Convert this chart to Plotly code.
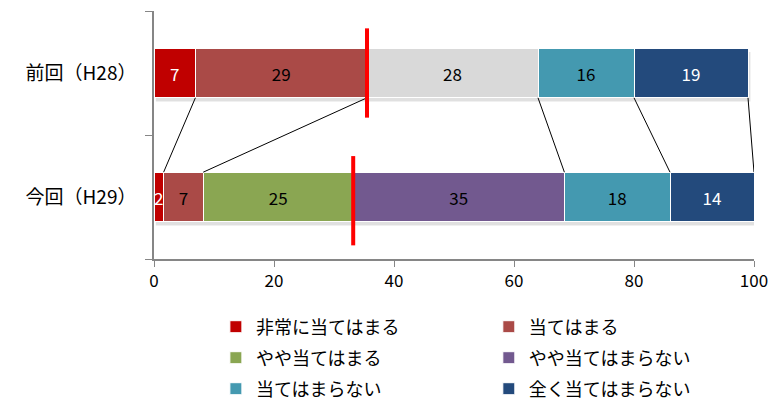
import plotly.graph_objects as go

categories = ["今回（H29）", "前回（H28）"]
series_names = ["非常に当てはまる", "当てはまる", "どちらともいえない", "やや当てはまる",
                "やや当てはまらない", "当てはまらない", "全く当てはまらない"]
# values per series: [今回, 前回]
values = [
    [1.6, 6.9],
    [6.6, 28.6],
    [None, 28.5],
    [25.0, None],
    [35.2, None],
    [17.6, 16.0],
    [14.0, 19.0],
]
labels = [
    ["2", "7"],
    ["7", "29"],
    ["", "28"],
    ["25", ""],
    ["35", ""],
    ["18", "16"],
    ["14", "19"],
]
x_ticks = [0, 20, 40, 60, 80, 100]

colors = ["#C00000", "#AA4A47", "#D9D9D9", "#8AA652", "#72598F", "#4499B0", "#234A7C"]
text_colors = ["#FFFFFF", "#000000", "#000000", "#000000", "#000000", "#000000", "#FFFFFF"]
show_leg = [True, True, False, True, True, True, True]
# one small legend per entry, laid out as a 2-column grid
legend_ids = ["legend", "legend2", "legend", "legend3", "legend4", "legend5", "legend6"]
legend_pos = {
    "legend": (0.280, 0.1825), "legend2": (0.634, 0.1825),
    "legend3": (0.280, 0.105), "legend4": (0.634, 0.105),
    "legend5": (0.280, 0.0275), "legend6": (0.634, 0.0275),
}

FONT = "Noto Sans CJK JP"
BAR_W = 0.4
fig = go.Figure()
for i, name in enumerate(series_names):
    fig.add_trace(go.Bar(
        y=categories, x=values[i], orientation="h", name=name,
        marker=dict(color=colors[i], line=dict(color="white", width=1)),
        text=labels[i], textposition="inside", insidetextanchor="middle",
        constraintext="none",
        textfont=dict(family=FONT, size=17, color=text_colors[i]),
        width=BAR_W, showlegend=show_leg[i], legend=legend_ids[i],
        hoverinfo="skip",
    ))

def cum(idx):
    c, s = [], 0.0
    for v in values:
        if v[idx] is not None:
            s += v[idx]
            c.append(s)
        else:
            c.append(None)
    return c

cum_now = cum(0)
cum_prev = cum(1)
shapes = []
# soft shadow under each bar
for yc, total in [(0, cum_now[-1]), (1, cum_prev[-1])]:
    shapes.append(dict(type="rect", xref="x", yref="y", layer="below",
                       x0=0.3, x1=total + 0.4, y0=yc - BAR_W / 2 - 0.03, y1=yc + BAR_W / 2 - 0.03,
                       fillcolor="rgba(0,0,0,0.12)", line=dict(width=0)))
pairs = [(0, 0), (1, 1), (2, 4), (5, 5), (6, 6)]
for pi, ni in pairs:
    shapes.append(dict(type="line", xref="x", yref="y",
                       x0=cum_prev[pi], y0=1 - BAR_W / 2, x1=cum_now[ni], y1=BAR_W / 2,
                       line=dict(color="black", width=1)))
shapes.append(dict(type="line", xref="x", yref="y", x0=cum_prev[1], x1=cum_prev[1],
                   y0=0.64, y1=1.36, line=dict(color="#FF0000", width=4)))
shapes.append(dict(type="line", xref="x", yref="y", x0=cum_now[3], x1=cum_now[3],
                   y0=-0.39, y1=0.33, line=dict(color="#FF0000", width=4)))

legends = {}
for lid, (lx, ly) in legend_pos.items():
    legends[lid] = dict(orientation="h", xref="container", yref="container",
                        xanchor="left", yanchor="middle", x=lx, y=ly,
                        font=dict(family=FONT, size=18, color="#000000"),
                        bgcolor="rgba(0,0,0,0)")

fig.update_layout(
    width=771, height=400,
    margin=dict(l=154, r=17, t=11, b=141, autoexpand=False),
    paper_bgcolor="white", plot_bgcolor="white",
    barmode="stack",
    font=dict(family=FONT, size=17, color="#000000"),
    xaxis=dict(range=[0, 100], tickvals=x_ticks, automargin=False,
               showgrid=False, zeroline=False, showline=True, linecolor="#868686",
               linewidth=1.5, ticks="outside", ticklen=6, tickcolor="#868686",
               tickfont=dict(family=FONT, size=17, color="#000000")),
    yaxis=dict(type="category", categoryorder="array", categoryarray=categories,
               range=[-0.5, 1.5], showgrid=False, zeroline=False, showline=True,
               automargin=False,
               linecolor="#868686", linewidth=1.5, ticks="outside", ticklen=7,
               tickcolor="#868686", tickson="boundaries", ticklabelstandoff=12,
               tickfont=dict(family=FONT, size=19, color="#000000")),
    shapes=shapes,
    **legends,
)

# remove the browser's default 8px body margin so the figure sits at the page origin
fig.write_html("out.html", config={"displayModeBar": False},
               post_script="document.body.style.margin='0';")
